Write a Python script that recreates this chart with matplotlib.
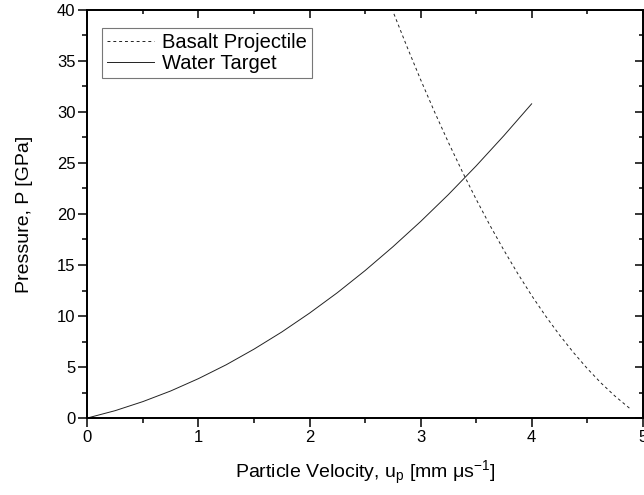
import matplotlib
matplotlib.use("Agg")
import matplotlib.pyplot as plt
from matplotlib.ticker import MultipleLocator

plt.rcParams["font.family"] = ["Liberation Sans", "DejaVu Sans"]
plt.rcParams["mathtext.fontset"] = "custom"
plt.rcParams["mathtext.rm"] = "Liberation Sans"
plt.rcParams["mathtext.it"] = "Liberation Sans:italic"

# ---------------------------------------------------------------------------
# Data
# ---------------------------------------------------------------------------
water_up = [0.0, 0.25, 0.5, 0.75, 1.0, 1.25, 1.5, 1.75, 2.0, 2.25, 2.5,
            2.75, 3.0, 3.25, 3.5, 3.75, 4.0]
water_p = [0.0, 0.72, 1.61, 2.65, 3.86, 5.22, 6.75, 8.43, 10.28, 12.28, 14.45,
           16.78, 19.26, 21.9, 24.71, 27.68, 30.8]

basalt_up = [2.76, 2.875, 3.0, 3.125, 3.25, 3.375, 3.5, 3.625, 3.75, 3.875,
             4.0, 4.125, 4.25, 4.375, 4.5, 4.625, 4.75, 4.9]
basalt_p = [39.62, 36.47, 33.18, 30.03, 27.03, 24.17, 21.45, 18.88, 16.45,
            14.16, 12.01, 10.01, 8.15, 6.44, 4.86, 3.43, 2.15, 0.79]

X_LIM = (0, 5)
Y_LIM = (0, 40)

# ---------------------------------------------------------------------------
# Plot
# ---------------------------------------------------------------------------
fig = plt.figure(figsize=(6.44, 4.95), dpi=100)
ax = fig.add_axes([87.4 / 644, 77 / 495, 555.3 / 644, 408 / 495])

ax.plot(basalt_up, basalt_p, color="#222222", linewidth=0.7,
        linestyle=(0, (3, 3)), label="Basalt Projectile")
ax.plot(water_up, water_p, color="#222222", linewidth=0.7,
        linestyle="-", label="Water Target")

ax.set_xlim(*X_LIM)
ax.set_ylim(*Y_LIM)
ax.xaxis.set_major_locator(MultipleLocator(1))
ax.xaxis.set_minor_locator(MultipleLocator(0.5))
ax.yaxis.set_major_locator(MultipleLocator(5))
ax.yaxis.set_minor_locator(MultipleLocator(2.5))

for s in ax.spines.values():
    s.set_linewidth(1.1)

ax.tick_params(which="major", direction="out", length=6.5, width=1.1,
               labelsize=12, pad=2)
ax.tick_params(which="minor", direction="out", length=3.5, width=1.1)

# top/right ticks point inward, without labels
for twin in (ax.twinx(), ax.twiny()):
    twin.set_xlim(*X_LIM)
    twin.set_ylim(*Y_LIM)
    twin.xaxis.set_major_locator(MultipleLocator(1))
    twin.xaxis.set_minor_locator(MultipleLocator(0.5))
    twin.yaxis.set_major_locator(MultipleLocator(5))
    twin.yaxis.set_minor_locator(MultipleLocator(2.5))
    twin.tick_params(which="major", direction="in", length=6, width=1.1,
                     labelleft=False, labelright=False,
                     labeltop=False, labelbottom=False)
    twin.tick_params(which="minor", direction="in", length=3, width=1.1)
    for s in twin.spines.values():
        s.set_linewidth(1.1)

ax.set_xlabel(r"Particle Velocity, u$_\mathregular{p}$ [mm $\mathregular{\mu}$s$^\mathregular{-1}$]",
              fontsize=14, labelpad=10)
ax.set_ylabel("Pressure, P [GPa]", fontsize=14, labelpad=17)

leg = ax.legend(loc="upper left", bbox_to_anchor=(0.027, 0.955),
                fontsize=14.5, frameon=True, fancybox=False,
                handlelength=2.3, handletextpad=0.4, borderpad=0.25,
                labelspacing=0.1, borderaxespad=0)
leg.get_frame().set_edgecolor("#555555")
leg.get_frame().set_linewidth(0.8)

fig.savefig("out.png", dpi=100)
